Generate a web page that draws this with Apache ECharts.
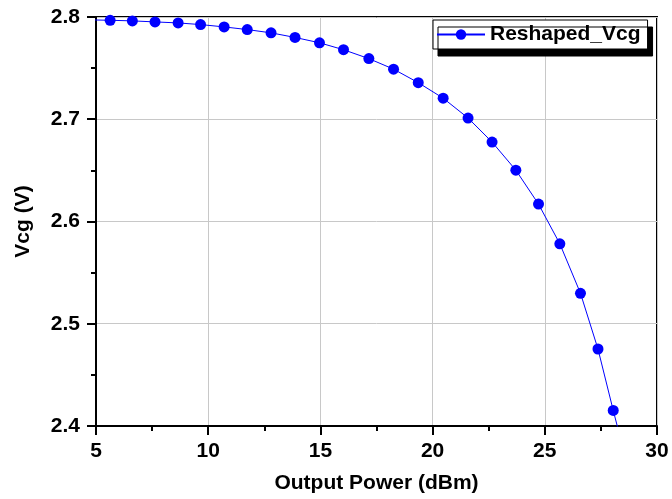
<!DOCTYPE html>
<html>
<head>
<meta charset="utf-8">
<script src="https://cdn.jsdelivr.net/npm/echarts@6/dist/echarts.min.js"></script>
<style>
html,body{margin:0;padding:0;background:#fff;}
#chart{width:672px;height:499px;}
</style>
</head>
<body>
<div id="chart"></div>
<script>
// Output power (dBm) and reshaped Vcg (V); first and last points lie outside the visible range
var outputPower = [4.62, 5.63, 6.62, 7.63, 8.66, 9.66, 10.71, 11.74, 12.80, 13.87, 14.96, 16.03, 17.16, 18.26, 19.36, 20.47, 21.58, 22.65, 23.71, 24.72, 25.67, 26.59, 27.37, 28.05, 28.70];
var reshapedVcg = [2.7972, 2.7968, 2.7962, 2.7952, 2.7942, 2.7926, 2.7903, 2.7877, 2.7845, 2.7800, 2.7748, 2.7680, 2.7593, 2.7490, 2.7358, 2.7206, 2.7012, 2.6777, 2.6502, 2.6170, 2.5782, 2.5298, 2.4753, 2.4152, 2.3600];
var seriesName = 'Reshaped_Vcg';
var xTitle = 'Output Power (dBm)';
var yTitle = 'Vcg (V)';

var data = outputPower.map(function (x, i) { return [x, reshapedVcg[i]]; });
var FONT = '"Liberation Sans", Arial, sans-serif';

var chart = echarts.init(document.getElementById('chart'), null, {renderer: 'canvas'});
chart.setOption({
  animation: false,
  backgroundColor: '#ffffff',
  grid: {left: 96, right: 15, top: 17, bottom: 68, show: true, borderColor: '#000', borderWidth: 2, backgroundColor: 'transparent'},
  legend: {
    left: 433, top: 20,
    data: [seriesName],
    backgroundColor: '#ffffff',
    borderColor: '#000', borderWidth: 1,
    shadowColor: '#000', shadowBlur: 0, shadowOffsetX: 5, shadowOffsetY: 7,
    padding: [4, 7, 4, 3],
    itemWidth: 48, itemHeight: 13,
    textStyle: {fontFamily: FONT, fontWeight: 'bold', fontSize: 21, color: '#000'}
  },
  xAxis: {
    type: 'value', min: 5, max: 30, interval: 5,
    name: xTitle, nameLocation: 'middle', nameGap: 47,
    nameTextStyle: {fontFamily: FONT, fontWeight: 'bold', fontSize: 21, color: '#000'},
    axisLine: {show: true, lineStyle: {color: '#000', width: 2}},
    axisTick: {show: true, length: 9, lineStyle: {color: '#000', width: 2}},
    minorTick: {show: true, splitNumber: 2, length: 5, lineStyle: {color: '#000', width: 2}},
    axisLabel: {margin: 15, fontFamily: FONT, fontWeight: 'bold', fontSize: 21, color: '#000'},
    splitLine: {show: true, lineStyle: {color: '#c8c8c8', width: 1}}
  },
  yAxis: {
    type: 'value', min: 2.4, max: 2.8, interval: 0.1,
    name: yTitle, nameLocation: 'middle', nameGap: 62,
    nameTextStyle: {fontFamily: FONT, fontWeight: 'bold', fontSize: 21, color: '#000'},
    axisLine: {show: true, lineStyle: {color: '#000', width: 2}},
    axisTick: {show: true, length: 9, lineStyle: {color: '#000', width: 2}},
    minorTick: {show: true, splitNumber: 2, length: 5, lineStyle: {color: '#000', width: 2}},
    axisLabel: {margin: 16, fontFamily: FONT, fontWeight: 'bold', fontSize: 21, color: '#000',
      formatter: function (v) { return v.toFixed(1); }},
    splitLine: {show: true, lineStyle: {color: '#c8c8c8', width: 1}}
  },
  series: [{
    name: seriesName,
    type: 'line',
    data: data,
    clip: true,
    symbol: 'circle', symbolSize: 11,
    showAllSymbol: true,
    itemStyle: {color: '#0000ff'},
    lineStyle: {color: '#0000ff', width: 1}
  }]
});
</script>
</body>
</html>
